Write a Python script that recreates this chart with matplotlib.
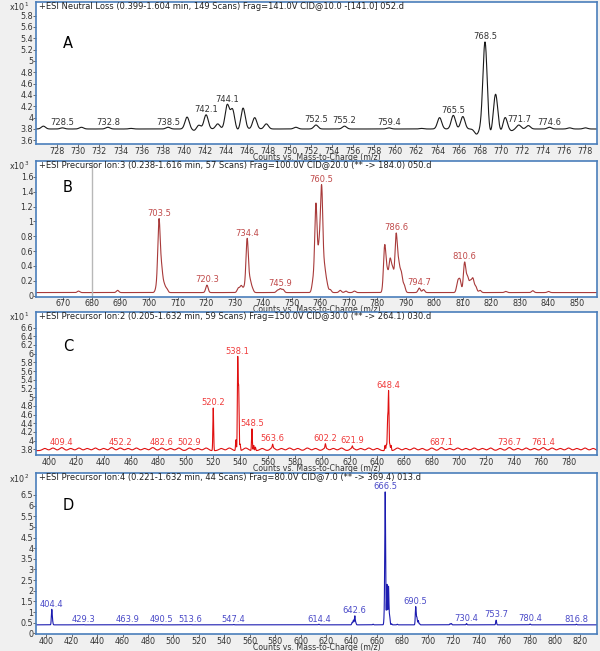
import numpy as np
import matplotlib.pyplot as plt

plt.rcParams['font.family'] = 'DejaVu Sans'

# ---------------- data ----------------
# A: neutral loss scan, counts x10^1
a_title = '+ESI Neutral Loss (0.399-1.604 min, 149 Scans) Frag=141.0V CID@10.0 -[141.0] 052.d'
a_base = 3.80
a_mz = [726.7, 728.5, 730.3, 732.8, 735.0, 738.5, 740.3, 741.4, 742.1, 743.2, 744.1, 744.6,
        745.6, 746.7, 747.8, 750.6, 752.5, 755.2, 759.4, 762.5, 764.2, 765.5, 766.4, 768.5,
        769.5, 770.4, 771.7, 772.6, 774.6, 776.5, 778.0]
a_int = [0.05, 0.02, 0.03, 0.03, 0.01, 0.03, 0.21, 0.07, 0.25, 0.09, 0.42, 0.34,
         0.37, 0.20, 0.09, 0.03, 0.07, 0.05, 0.02, 0.01, 0.20, 0.24, 0.22, 1.54,
         0.62, 0.21, 0.07, 0.06, 0.03, 0.02, 0.02]
a_dip_mz = [767.7, 769.0, 770.0, 771.0, 741.0, 745.1]
a_dip = [-0.09, -0.10, -0.06, -0.03, -0.03, -0.03]
a_labels = [728.5, 732.8, 738.5, 742.1, 744.1, 752.5, 755.2, 759.4, 765.5, 768.5, 771.7, 774.6]
a_xticks = list(range(728, 779, 2))
a_yticks = [3.6, 3.8, 4.0, 4.2, 4.4, 4.6, 4.8, 5.0, 5.2, 5.4, 5.6, 5.8]

# B: precursor ion scan 184.0, counts x10^3
b_title = '+ESI Precursor Ion:3 (0.238-1.616 min, 57 Scans) Frag=100.0V CID@20.0 (** -> 184.0) 050.d'
b_base = 0.04
b_mz = [675.3, 689.0, 702.6, 703.5, 704.4, 705.3, 706.2, 720.3, 731.3, 732.3, 733.3, 734.4,
        735.4, 736.2, 745.0, 746.0, 747.0, 757.5, 758.5, 759.6, 760.5, 761.5, 762.3, 763.5,
        767.0, 769.0, 772.0, 782.6, 783.5, 784.5, 785.4, 786.6, 787.5, 788.4, 789.4, 794.7,
        796.2, 808.2, 809.0, 810.6, 811.6, 812.6, 813.5, 814.5, 816.0, 825.0, 834.5, 840.0]
b_int = [0.02, 0.03, 0.06, 0.96, 0.30, 0.10, 0.05, 0.10, 0.06, 0.09, 0.06, 0.72,
         0.15, 0.05, 0.03, 0.05, 0.04, 0.15, 1.18, 0.55, 1.38, 0.30, 0.12, 0.04,
         0.03, 0.02, 0.02, 0.62, 0.25, 0.42, 0.30, 0.76, 0.35, 0.25, 0.10, 0.06,
         0.04, 0.14, 0.16, 0.40, 0.20, 0.14, 0.18, 0.08, 0.03, 0.015, 0.025, 0.015]
b_labels = [703.5, 720.3, 734.4, 745.9, 760.5, 786.6, 794.7, 810.6]
b_xticks = list(range(670, 851, 10))
b_yticks = [0, 0.2, 0.4, 0.6, 0.8, 1.0, 1.2, 1.4, 1.6]
b_cursor = 680.2

# C: precursor ion scan 264.1, counts x10^1
c_title = '+ESI Precursor Ion:2 (0.205-1.632 min, 59 Scans) Frag=150.0V CID@30.0 (** -> 264.1) 030.d'
c_base = 3.77
c_mz = [520.2, 536.8, 538.1, 538.8, 539.8, 548.5, 549.8, 551.0, 563.6, 602.2, 621.9,
        645.8, 646.8, 647.7, 648.4, 649.3, 650.2]
c_int = [0.98, 0.25, 2.10, 1.40, 0.15, 0.50, 0.12, 0.08, 0.08, 0.10, 0.05,
         0.12, 0.14, 0.72, 1.35, 0.15, 0.12]
c_noise_mz = [397, 403, 409.4, 416, 422, 428, 434, 440, 446, 452.2, 458, 464, 470, 476,
              482.6, 489, 495, 502.9, 509, 515, 526, 532, 544, 556, 563.6, 570, 576, 582,
              589, 595, 602.2, 608, 614, 621.9, 628, 634, 640, 655, 661, 667, 673, 680,
              687.1, 693, 699, 705, 711, 717, 723, 730, 736.7, 743, 749, 755, 761.4, 768,
              774, 780, 786, 792, 798]
c_noise = [0.05, 0.06, 0.07, 0.05, 0.06, 0.05, 0.06, 0.05, 0.07, 0.06, 0.05, 0.06, 0.05, 0.07,
           0.06, 0.05, 0.06, 0.06, 0.05, 0.06, 0.05, 0.06, 0.06, 0.05, 0.07, 0.05, 0.06, 0.05,
           0.06, 0.05, 0.06, 0.05, 0.06, 0.06, 0.05, 0.06, 0.05, 0.06, 0.05, 0.06, 0.05, 0.06,
           0.07, 0.05, 0.06, 0.05, 0.06, 0.05, 0.06, 0.05, 0.07, 0.05, 0.06, 0.05, 0.07, 0.06,
           0.05, 0.06, 0.05, 0.06, 0.05]
c_labels = [409.4, 452.2, 482.6, 502.9, 520.2, 538.1, 548.5, 563.6, 602.2, 621.9, 648.4,
            687.1, 736.7, 761.4]
c_xticks = list(range(400, 781, 20))
c_yticks = [3.8, 4.0, 4.2, 4.4, 4.6, 4.8, 5.0, 5.2, 5.4, 5.6, 5.8, 6.0, 6.2, 6.4, 6.6]

# D: precursor ion scan 369.4, counts x10^2
d_title = '+ESI Precursor Ion:4 (0.221-1.632 min, 44 Scans) Frag=80.0V CID@7.0 (** -> 369.4) 013.d'
d_base = 0.40
d_mz = [404.4, 405.0, 429.3, 463.9, 490.5, 513.6, 547.4, 614.4, 640.5, 641.5, 642.6, 643.4,
        657.0, 665.8, 666.5, 667.9, 669.1, 670.0, 671.5, 676.0, 690.5, 691.4, 692.5, 693.5,
        717.5, 718.5, 730.4, 753.7, 780.4, 816.8]
d_int = [0.70, 0.15, 0.01, 0.01, 0.01, 0.01, 0.02, 0.03, 0.12, 0.22, 0.42, 0.10,
         0.03, 0.40, 6.20, 1.90, 1.80, 0.40, 0.05, 0.03, 0.85, 0.35, 0.20, 0.05,
         0.05, 0.06, 0.06, 0.22, 0.04, 0.03]
d_labels = [404.4, 429.3, 463.9, 490.5, 513.6, 547.4, 614.4, 642.6, 666.5, 690.5, 730.4,
            753.7, 780.4, 816.8]
d_xticks = list(range(400, 821, 20))
d_yticks = [0, 0.5, 1, 1.5, 2, 2.5, 3, 3.5, 4, 4.5, 5, 5.5, 6, 6.5]

# ---------------- drawing ----------------
W, H = 600, 651
fig = plt.figure(figsize=(W / 100, H / 100), dpi=100, facecolor='#f0f0f0')
frame = '#4a7ebb'


def trace(x, base, mz, inten, sig):
    y = np.full_like(x, base)
    for m, h in zip(mz, inten):
        y += h * np.exp(-0.5 * ((x - m) / sig) ** 2)
    return y


def panel(box, xlim, ylim, xticks, yticks, x, y, lcolor, tcolor, labels, win,
          letter, letter_dy, title, power):
    l, t, r, b = box
    ax = fig.add_axes([l / W, 1 - b / H, (r - l) / W, (b - t) / H])
    ax.set_facecolor('white')
    ax.plot(x, y, color=lcolor, lw=0.8)
    ax.set_xlim(*xlim)
    ax.set_ylim(*ylim)
    ax.set_xticks(xticks)
    ax.set_xticklabels([f'{v:g}' for v in xticks])
    ax.set_yticks(yticks)
    ax.set_yticklabels([f'{round(v, 2):g}' for v in yticks])
    ax.tick_params(length=2, width=0.6, pad=0, labelsize=5.8, color='#555555',
                   labelcolor='#333333')
    for s in ax.spines.values():
        s.set_color(frame)
        s.set_linewidth(1.2)
    for lab in labels:
        sel = (x > lab - win) & (x < lab + win)
        ax.annotate(f'{lab}', (lab, y[sel].max()), xytext=(0, 0.5), textcoords='offset points',
                    ha='center', va='bottom', fontsize=6, color=tcolor)
    ax.annotate(title, (0, 1), xycoords='axes fraction', xytext=(2, -3.5),
                textcoords='offset points', ha='left', va='center', fontsize=6, color='#222222')
    ax.annotate(letter, (0, 1), xycoords='axes fraction', xytext=(23, -letter_dy * 0.72),
                textcoords='offset points', ha='center', va='center', fontsize=10.5, color='black')
    ax.annotate('x10$^{%d}$' % power, (0, 1), xycoords='axes fraction', xytext=(-19.5, -4),
                textcoords='offset points', ha='left', va='center', fontsize=5.8, color='#333333')
    ax.annotate('Counts vs. Mass-to-Charge (m/z)', (0.5, 0), xycoords='axes fraction',
                xytext=(0, -9.4), textcoords='offset points', ha='center', va='center',
                fontsize=5.6, color='#333333')
    return ax


xa = np.linspace(726.0, 779.1, 8000)
ya = trace(xa, a_base, a_mz, a_int, 0.2) + trace(xa, 0, a_dip_mz, a_dip, 0.2)
panel((36, 1.5, 597, 144), (726.0, 779.1), (3.535, 6.05), a_xticks, a_yticks, xa, ya,
      '#1a1a1a', '#333333', a_labels, 0.4, 'A', 41.5, a_title, 1)

xb = np.linspace(660.4, 857.0, 12000)
yb = trace(xb, b_base, b_mz, b_int, 0.42)
axb = panel((36, 160.5, 597, 296.5), (660.4, 857.0), (-0.013, 1.82), b_xticks, b_yticks, xb, yb,
            '#a83a3a', '#c04a4a', b_labels, 1.0, 'B', 26.5, b_title, 3)
axb.axvline(b_cursor, color='#b8b8b8', lw=1)

xc = np.linspace(390.6, 800.8, 24000)
yc = trace(xc, c_base, c_mz, c_int, 0.28) + trace(xc, 0, c_noise_mz, c_noise, 1.6)
panel((36, 311.5, 597, 455), (390.6, 800.8), (3.67, 6.97), c_xticks, c_yticks, xc, yc,
      '#e01010', '#f03c3c', c_labels, 1.5, 'C', 35, c_title, 1)

xd = np.linspace(392.0, 833.0, 24000)
yd = trace(xd, d_base, d_mz, d_int, 0.33)
panel((36, 473, 597, 634), (392.0, 833.0), (-0.03, 7.53), d_xticks, d_yticks, xd, yd,
      '#1c1cb0', '#4a4ac8', d_labels, 1.5, 'D', 32, d_title, 2)

fig.savefig('out.png', dpi=100, facecolor=fig.get_facecolor())
